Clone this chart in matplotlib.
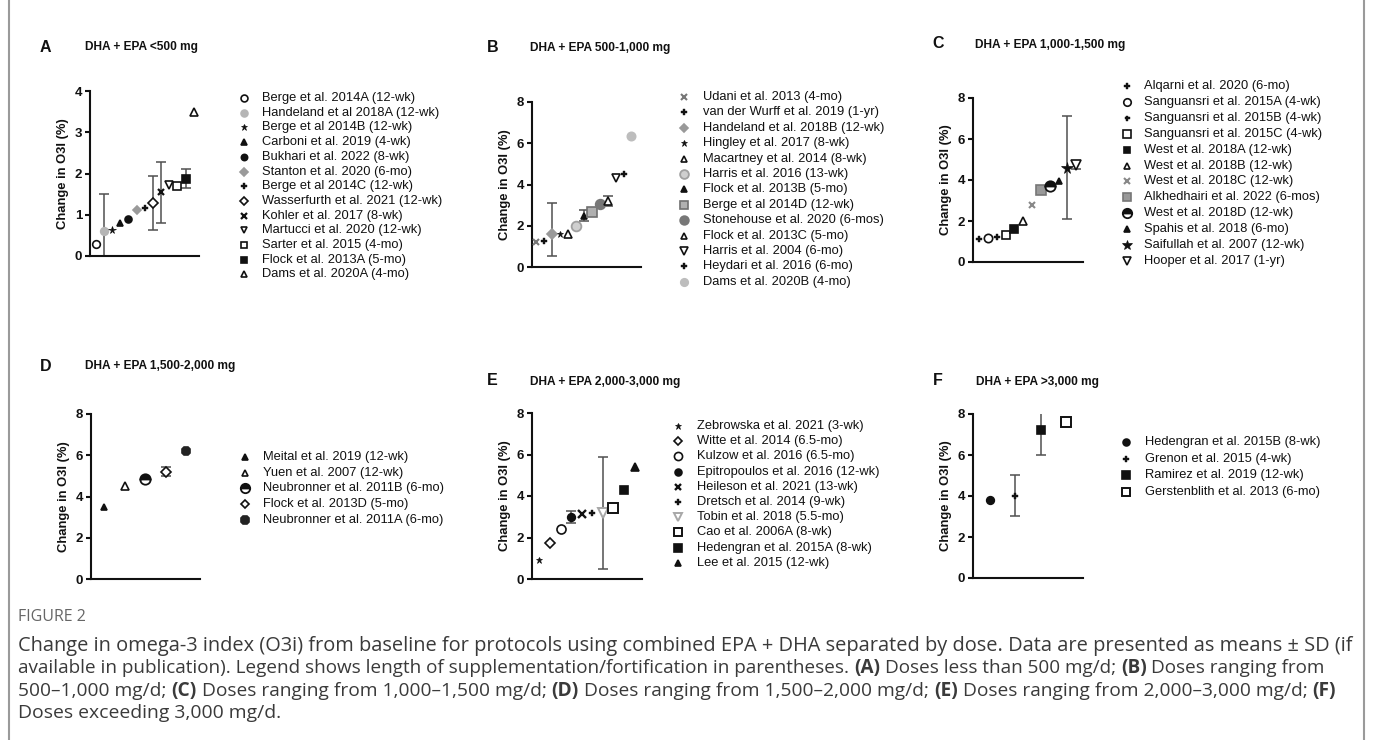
import numpy as np
import matplotlib
matplotlib.use('Agg')
import matplotlib.pyplot as plt
from matplotlib.lines import Line2D

nan = np.nan

# ------------------------------------------------------------------ data
a_labels = ["Berge et al. 2014A (12-wk)", "Handeland et al 2018A (12-wk)", "Berge et al 2014B (12-wk)",
            "Carboni et al. 2019 (4-wk)", "Bukhari et al. 2022 (8-wk)", "Stanton et al. 2020 (6-mo)",
            "Berge et al 2014C (12-wk)", "Wasserfurth et al. 2021 (12-wk)", "Kohler et al. 2017 (8-wk)",
            "Martucci et al. 2020 (12-wk)", "Sarter et al. 2015 (4-mo)", "Flock et al. 2013A (5-mo)",
            "Dams et al. 2020A (4-mo)"]
a_values = [0.30, 0.60, 0.63, 0.79, 0.90, 1.12, 1.17, 1.28, 1.55, 1.72, 1.70, 1.87, 3.50]
a_sd = [nan, 0.90, nan, nan, nan, nan, nan, 0.66, 0.74, nan, nan, 0.23, nan]
a_sd_up = a_sd

b_labels = ["Udani et al. 2013 (4-mo)", "van der Wurff et al. 2019 (1-yr)", "Handeland et al. 2018B (12-wk)",
            "Hingley et al. 2017 (8-wk)", "Macartney et al. 2014 (8-wk)", "Harris et al. 2016 (13-wk)",
            "Flock et al. 2013B (5-mo)", "Berge et al 2014D (12-wk)", "Stonehouse et al. 2020 (6-mos)",
            "Flock et al. 2013C (5-mo)", "Harris et al. 2004 (6-mo)", "Heydari et al. 2016 (6-mo)",
            "Dams et al. 2020B (4-mo)"]
b_values = [1.21, 1.28, 1.62, 1.62, 1.58, 1.97, 2.49, 2.65, 3.04, 3.18, 4.32, 4.51, 6.37]
b_sd = [nan, nan, 1.10, nan, nan, nan, 0.25, nan, nan, 0.24, nan, nan, nan]
b_sd_up = [nan, nan, 1.50, nan, nan, nan, 0.25, nan, nan, 0.24, nan, nan, nan]

c_labels = ["Alqarni et al. 2020 (6-mo)", "Sanguansri et al. 2015A (4-wk)", "Sanguansri et al. 2015B (4-wk)",
            "Sanguansri et al. 2015C (4-wk)", "West et al. 2018A (12-wk)", "West et al. 2018B (12-wk)",
            "West et al. 2018C (12-wk)", "Alkhedhairi et al. 2022 (6-mos)", "West et al. 2018D (12-wk)",
            "Spahis et al. 2018 (6-mo)", "Saifullah et al. 2007 (12-wk)", "Hooper et al. 2017 (1-yr)"]
c_values = [1.13, 1.15, 1.21, 1.34, 1.60, 2.01, 2.80, 3.50, 3.71, 3.95, 4.60, 4.74]
c_sd = [nan, nan, nan, nan, nan, nan, nan, nan, nan, nan, 2.50, 0.20]
c_sd_up = c_sd

d_labels = ["Meital et al. 2019 (12-wk)", "Yuen et al. 2007 (12-wk)", "Neubronner et al. 2011B (6-mo)",
            "Flock et al. 2013D (5-mo)", "Neubronner et al. 2011A (6-mo)"]
d_values = [3.48, 4.49, 4.86, 5.21, 6.22]
d_sd = [nan, nan, nan, 0.20, nan]
d_sd_up = d_sd

e_labels = ["Zebrowska et al. 2021 (3-wk)", "Witte et al. 2014 (6.5-mo)", "Kulzow et al. 2016 (6.5-mo)",
            "Epitropoulos et al. 2016 (12-wk)", "Heileson et al. 2021 (13-wk)", "Dretsch et al. 2014 (9-wk)",
            "Tobin et al. 2018 (5.5-mo)", "Cao et al. 2006A (8-wk)", "Hedengran et al. 2015A (8-wk)",
            "Lee et al. 2015 (12-wk)"]
e_values = [0.92, 1.72, 2.42, 3.01, 3.12, 3.20, 3.20, 3.41, 4.30, 5.38]
e_sd = [nan, nan, nan, 0.29, nan, nan, 2.70, nan, nan, nan]
e_sd_up = e_sd

f_labels = ["Hedengran et al. 2015B (8-wk)", "Grenon et al. 2015 (4-wk)", "Ramirez et al. 2019 (12-wk)",
            "Gerstenblith et al. 2013 (6-mo)"]
f_values = [3.81, 4.01, 7.22, 7.63]
f_sd = [nan, 1.00, 1.20, nan]
f_sd_up = f_sd

panel_letters = ["A", "B", "C", "D", "E", "F"]
panel_titles = ["DHA + EPA <500 mg", "DHA + EPA 500-1,000 mg", "DHA + EPA 1,000-1,500 mg",
                "DHA + EPA 1,500-2,000 mg", "DHA + EPA 2,000-3,000 mg", "DHA + EPA >3,000 mg"]
y_label = "Change in O3I (%)"

caption_head = "FIGURE 2"
caption_lines = [
    [("Change in omega-3 index (O3i) from baseline for protocols using combined EPA + DHA separated by dose. Data are presented as means \u00b1 SD (if", False)],
    [("available in publication). Legend shows length of supplementation/fortification in parentheses.", False),
     ("(A)", True), ("Doses less than 500 mg/d;", False), ("(B)", True), ("Doses ranging from", False)],
    [("500\u20131,000 mg/d;", False), ("(C)", True), ("Doses ranging from 1,000\u20131,500 mg/d;", False),
     ("(D)", True), ("Doses ranging from 1,500\u20132,000 mg/d;", False), ("(E)", True),
     ("Doses ranging from 2,000\u20133,000 mg/d;", False), ("(F)", True)],
    [("Doses exceeding 3,000 mg/d.", False)],
]

# ------------------------------------------------------------------ styles
K = '#111111'
def S(marker, ms, fc, ec, mew=1.2, fs='full'):
    return dict(marker=marker, ms=ms, mfc=fc, mec=ec, mew=mew, fs=fs)

a_styles = [S('o', 5.5, 'white', K), S('o', 5.5, '#b5b5b5', '#b5b5b5'), S('*', 5.5, K, K, 0.5),
            S('^', 4.5, K, K), S('o', 5, K, K), S('D', 4.5, '#9a9a9a', '#9a9a9a'), S('P', 5, K, K, 0.3),
            S('D', 5, 'white', K), S('x', 5, K, K, 1.6), S('v', 5.5, 'white', K), S('s', 5.5, 'white', K),
            S('s', 5.5, K, K), S('^', 5.5, 'white', K)]
b_styles = [S('x', 5, '#777777', '#777777', 1.5), S('P', 4.5, K, K, 0.3), S('D', 5, '#999999', '#999999'),
            S('*', 5, K, K, 0.5), S('^', 5.5, 'white', K), S('o', 7, '#cfcfcf', '#a0a0a0', 1.3),
            S('^', 5, K, K), S('s', 6.5, '#b0b0b0', '#707070', 1.2), S('o', 7, '#777777', '#777777'),
            S('^', 5.5, 'white', K), S('v', 6, 'white', K), S('P', 5, K, K, 0.3),
            S('o', 6, '#bdbdbd', '#bdbdbd')]
c_styles = [S('P', 4.5, K, K, 0.3), S('o', 6, 'white', K), S('P', 4, K, K, 0.3), S('s', 6, 'white', K),
            S('s', 5.5, K, K), S('^', 5.5, 'white', K), S('x', 5, '#888888', '#888888', 1.5),
            S('s', 6.5, '#999999', '#777777'), S('o', 7.5, K, K, 1.3, 'top'), S('^', 4.5, K, K),
            S('*', 8.5, K, K, 0.5), S('v', 6.5, 'white', K)]
d_styles = [S('^', 4.5, K, K), S('^', 5.5, 'white', K), S('o', 7.5, K, K, 1.3, 'top'),
            S('D', 5, 'white', K), S('8', 7, '#222222', '#222222')]
e_styles = [S('*', 5, K, K, 0.5), S('D', 5, 'white', K), S('o', 6.5, 'white', K), S('o', 5.5, K, K),
            S('x', 5.5, K, K, 1.7), S('P', 4.5, K, K, 0.3), S('v', 7, 'white', '#a8a8a8', 1.4),
            S('s', 6.5, 'white', K, 1.4), S('s', 6, K, K), S('^', 5.5, K, K)]
f_styles = [S('o', 5.5, K, K), S('P', 4.5, K, K, 0.3), S('s', 6, K, K), S('s', 7, 'white', K, 1.4)]

# ------------------------------------------------------------------ layout (pixels)
W, H = 1373, 740
plt.rcParams['font.family'] = ['Liberation Sans', 'DejaVu Sans']
fig = plt.figure(figsize=(W / 100, H / 100), dpi=100)
fig.patch.set_facecolor('white')

def fx(x):
    return x / W

def fy(y):
    return 1 - y / H

panels = [
    dict(labels=a_labels, values=a_values, sd=a_sd, sd_up=a_sd_up, styles=a_styles, rect=(90, 199, 91, 256),
         xlim=(-0.7, 12.65), ymax=4, yticks=[0, 1, 2, 3, 4], letter=(40, 47), title=(85, 47),
         leg=(244, 262, 98, 14.7)),
    dict(labels=b_labels, values=b_values, sd=b_sd, sd_up=b_sd_up, styles=b_styles, rect=(532, 641, 102, 267),
         xlim=(-0.55, 13.2), ymax=8, yticks=[0, 2, 4, 6, 8], letter=(487, 47), title=(530, 48),
         leg=(684, 703, 97, 15.4)),
    dict(labels=c_labels, values=c_values, sd=c_sd, sd_up=c_sd_up, styles=c_styles, rect=(973, 1083, 98, 262),
         xlim=(-0.68, 11.77), ymax=8, yticks=[0, 2, 4, 6, 8], letter=(932, 43), title=(975, 45),
         leg=(1127, 1144, 86, 15.9)),
    dict(labels=d_labels, values=d_values, sd=d_sd, sd_up=d_sd_up, styles=d_styles, rect=(91, 200, 414, 579),
         xlim=(-0.65, 4.68), ymax=8, yticks=[0, 2, 4, 6, 8], letter=(40, 366), title=(85, 366),
         leg=(245, 263, 457, 15.7)),
    dict(labels=e_labels, values=e_values, sd=e_sd, sd_up=e_sd_up, styles=e_styles, rect=(532, 642, 413, 579),
         xlim=(-0.69, 9.69), ymax=8, yticks=[0, 2, 4, 6, 8], letter=(487, 381), title=(530, 382),
         leg=(678, 697, 426, 15.2)),
    dict(labels=f_labels, values=f_values, sd=f_sd, sd_up=f_sd_up, styles=f_styles, rect=(973, 1083, 414, 578),
         xlim=(-0.66, 3.66), ymax=8, yticks=[0, 2, 4, 6, 8], letter=(933, 381), title=(976, 382),
         leg=(1126, 1145, 442, 16.5)),
]

leg_fs = 9.3
for i, p in enumerate(panels):
    l, r, t, b = p['rect']
    ax = fig.add_axes([fx(l), fy(b), (r - l) / W, (b - t) / H])
    ax.set_xlim(*p['xlim'])
    ax.set_ylim(0, p['ymax'])
    vals = np.array(p['values'], dtype=float)
    sdl = np.array(p['sd'], dtype=float)
    sdu = np.array(p['sd_up'], dtype=float)
    xs = np.arange(len(vals))
    m = ~np.isnan(sdl)
    ax.errorbar(xs[m], vals[m], yerr=[sdl[m], sdu[m]], fmt='none', ecolor='#505050', elinewidth=1.1,
                capsize=3.5, capthick=1.1, zorder=2)
    for j, st in enumerate(p['styles']):
        ax.plot([xs[j]], [vals[j]], linestyle='none', marker=st['marker'], ms=st['ms'],
                mfc=st['mfc'], mec=st['mec'], mew=st['mew'], fillstyle=st['fs'],
                markerfacecoloralt='white', zorder=3, clip_on=False)
    for s in ['top', 'right']:
        ax.spines[s].set_visible(False)
    for s in ['left', 'bottom']:
        ax.spines[s].set_linewidth(1.5)
        ax.spines[s].set_color('#111111')
    ax.set_xticks([])
    ax.set_yticks(p['yticks'])
    ax.tick_params(axis='y', length=3.5, width=1.5, pad=2, labelsize=9.5, colors='#111111')
    for tl in ax.get_yticklabels():
        tl.set_fontweight('bold')
    fig.text(fx(l - 27), fy((t + b) / 2), y_label, rotation=90, ha='center', va='center',
             fontsize=9.4, fontweight='bold', color='#111111')
    fig.text(fx(p['letter'][0]), fy(p['letter'][1]), panel_letters[i], ha='left', va='center',
             fontsize=11.5, fontweight='bold', color='#111111')
    fig.text(fx(p['title'][0]), fy(p['title'][1]), panel_titles[i], ha='left', va='center',
             fontsize=8.6, fontweight='bold', color='#111111')
    mx, tx, y0, dy = p['leg']
    for j, (lab, st) in enumerate(zip(p['labels'], p['styles'])):
        yy = y0 + dy * j
        fig.add_artist(Line2D([fx(mx)], [fy(yy)], transform=fig.transFigure, linestyle='none',
                              marker=st['marker'], ms=st['ms'] * 0.9, mfc=st['mfc'], mec=st['mec'],
                              mew=st['mew'], fillstyle=st['fs'], markerfacecoloralt='white'))
        fig.text(fx(tx), fy(yy), lab, ha='left', va='center', fontsize=leg_fs, color='#111111')

# ------------------------------------------------------------------ caption
renderer = fig.canvas.get_renderer()
cap_family = ['Open Sans', 'DejaVu Sans']

def text_w(s, size, weight='normal'):
    tt = fig.text(0, 0, s, fontsize=size, fontweight=weight, family=cap_family)
    w = tt.get_window_extent(renderer).width
    tt.remove()
    return w

def space_w(size):
    return text_w("a a", size) - text_w("aa", size)

def line_w(line, size):
    return sum(text_w(s, size, 'bold' if bd else 'normal') for s, bd in line) + space_w(size) * (len(line) - 1)

head_size = 10 * 68 / text_w(caption_head, 10)
fig.text(fx(18), fy(621), caption_head, fontsize=head_size, color='#666666', family=cap_family,
         ha='left', va='baseline')
targets = [1331, 1306, 1320]
sizes = [10 * tw / line_w(line, 10) for line, tw in zip(caption_lines[:3], targets)]
sizes.append(float(np.mean(sizes)))
baselines = [651, 673, 696, 718]
for line, yb, size in zip(caption_lines, baselines, sizes):
    sw = space_w(size)
    cx = 18
    for seg, bold in line:
        wgt = 'bold' if bold else 'normal'
        fig.text(fx(cx), fy(yb), seg, fontsize=size, fontweight=wgt, color='#3a3a3a',
                 family=cap_family, ha='left', va='baseline')
        cx += text_w(seg, size, wgt) + sw

for xb in (9, 1364):
    fig.add_artist(Line2D([fx(xb), fx(xb)], [0, 1], transform=fig.transFigure, color='#9a9a9a', lw=1.5))

fig.savefig('out.png', dpi=100, facecolor='white')
